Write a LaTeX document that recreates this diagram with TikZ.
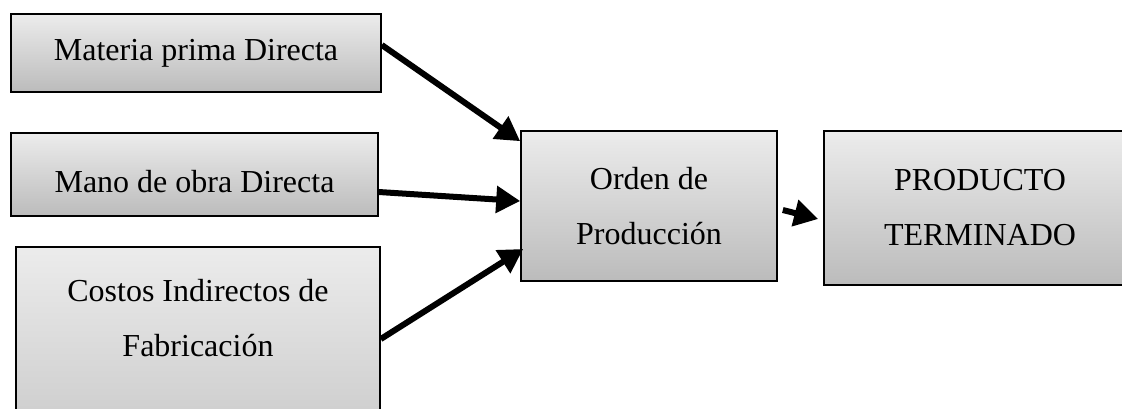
\documentclass[tikz,border=0pt]{standalone}
\usepackage{fontspec}
\setmainfont{Liberation Serif}
\usepackage{tikz}
\usetikzlibrary{calc,positioning,arrows.meta,shadings}

\tikzset{
  box/.style={draw, line width=0.8pt, rectangle, top color=gray!15, bottom color=gray!53,
    font=\fontsize{16}{27.5}\selectfont, align=center},
  flecha/.style={line width=3pt, -{Triangle[length=12pt,width=13pt]}}
}

\begin{document}
\begin{tikzpicture}[node distance=60.75pt]
        \useasboundingbox (0,0) rectangle (561pt,-204pt);
        \clip (0,0) rectangle (561pt,-204pt);
        \node (mpd) [box, minimum width=185pt, minimum height=39pt] at (98pt,-26.5pt) {Materia prima Directa};
        \node (mod) [box, minimum width=183.5pt, minimum height=41.5pt, text height=18pt, below of=mpd, xshift=-0.75pt] {Mano de obra Directa};
        \node (cif) [box, minimum width=182pt, anchor=north, inner ysep=16pt, text depth=70pt] at (99pt,-123pt) {Costos Indirectos de\\Fabricación};
        \node (orden) [box, minimum width=128pt, minimum height=75pt] at (324.5pt,-103pt) {Orden de\\Producción};
        \node (prod) [box, minimum width=156pt, minimum height=77pt, right of=orden, node distance=165.5pt, yshift=-1pt] {PRODUCTO\\TERMINADO};

        \draw[flecha] ([yshift=4pt]mpd.east) -- ([yshift=-5.5pt]orden.north west);
        \draw[flecha] ([yshift=-8.75pt]mod.east) -- ([yshift=2.5pt]orden.west);
        \draw[flecha] ([yshift=-46.5pt]cif.north east) -- ([xshift=1.5pt,yshift=-21.5pt]orden.west);
        \draw[flecha] ([xshift=2.5pt,yshift=-2pt]orden.east) -- ([xshift=-2.5pt,yshift=-5.5pt]prod.west);
\end{tikzpicture}
\end{document}
